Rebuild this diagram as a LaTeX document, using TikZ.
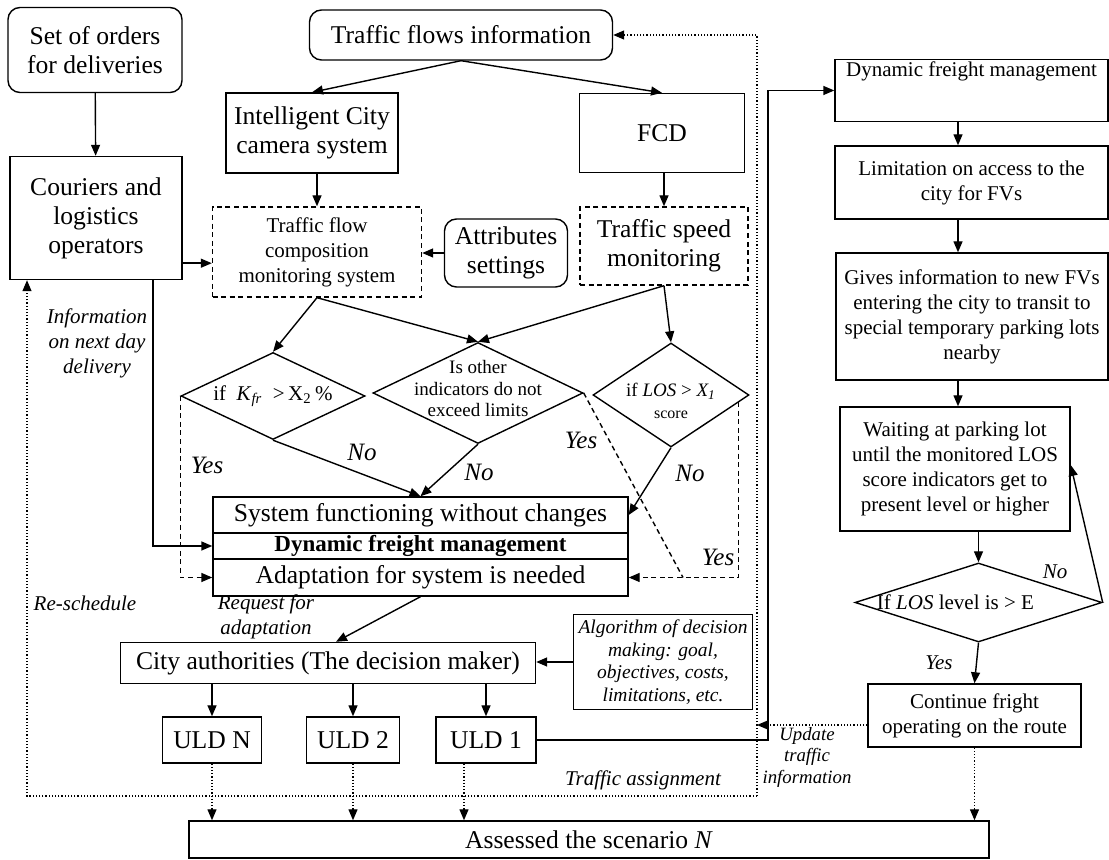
\documentclass[tikz,border=0pt]{standalone}
\usepackage{fontspec}
\setmainfont{Liberation Serif}
\usetikzlibrary{arrows.meta,shapes.geometric}

\newcommand{\bigtxt}{\fontsize{12.8}{14.5}\selectfont}
\newcommand{\midtxt}{\fontsize{10.5}{12.5}\selectfont}
\newcommand{\smtxt}{\fontsize{9.5}{10.75}\selectfont}
\newcommand{\itxt}{\fontsize{10.5}{12.5}\selectfont\itshape}
\newcommand{\yntxt}{\fontsize{12.5}{14}\selectfont\itshape}

\begin{document}
\begin{tikzpicture}[x=0.5pt, y=-0.5pt, line width=0.7pt,
    >={Triangle[length=5.5pt,width=4.5pt]},
    box/.style={draw, rectangle, align=center, inner sep=1pt, font=\bigtxt},
    rbox/.style={box, rounded corners=6pt},
    dbox/.style={box, dash pattern=on 2.5pt off 1.8pt},
    decision/.style={draw, diamond, inner sep=0pt},
    lbl/.style={font=\itxt, align=center},
    yn/.style={font=\yntxt},
    dotline/.style={densely dotted, line width=0.6pt},
    dashline/.style={dash pattern=on 2.5pt off 1.8pt}]
\useasboundingbox (0,0) rectangle (1109,860);

% orders and couriers
\node (orders) [rbox, minimum width=87pt, minimum height=42.5pt] at (95,50) {Set of orders\\for deliveries};
\node (couriers) [box, minimum width=86pt, minimum height=61.5pt] at (96,218) {Couriers and\\logistics\\operators};

% traffic information sources
\node (tfi) [rbox, minimum width=151.5pt, minimum height=25pt] at (461,35) {Traffic flows information};
\node (camera) [box, minimum width=86pt, minimum height=40pt] at (312,133) {Intelligent City\\camera system};
\node (fcd) [box, minimum width=82.5pt, minimum height=39.5pt] at (662,133) {FCD};
\node (tfc) [dbox, font=\midtxt, minimum width=104.5pt, minimum height=45pt] at (317,252) {Traffic flow\\composition\\monitoring system};
\node (attr) [rbox, minimum width=61.5pt, minimum height=34pt] at (506,253) {Attributes\\settings};
\node (tsm) [dbox, minimum width=84pt, minimum height=39pt] at (664,246) {Traffic speed\\monitoring};

% checks
\node (d1) [decision, minimum width=92pt, minimum height=43.5pt,
    label={[font=\midtxt]center:if~~\textit{K}$_{\mathit{fr}}$~~{>}\,X\textsubscript{2}\,\%}] at (273,396) {};
\node (d2) [decision, minimum width=105pt, minimum height=50.5pt,
    label={[font=\smtxt, align=center, yshift=2pt]center:Is other\\indicators do not\\exceed limits}] at (478,393) {};
\node (d3) [decision, minimum width=78pt, minimum height=52pt,
    label={[font=\smtxt, align=center, yshift=-3pt]center:if \textit{LOS} {>} \textit{X\textsubscript{1}}\\{\fontsize{8}{9}\selectfont score}}] at (671,395) {};

% system state
\node (sys) [box, minimum width=207.5pt, minimum height=18pt] at (420.5,515) {System functioning without changes};
\node (dfm) [box, font=\fontsize{11.5}{13}\selectfont\bfseries, minimum width=207.5pt, minimum height=13pt] at (420.5,546) {Dynamic freight management};
\node (adapt) [box, minimum width=207.5pt, minimum height=18.5pt] at (420.5,577.5) {Adaptation for system is needed};

% decision maker
\node (city) [box, minimum width=207.5pt, minimum height=20.5pt] at (328,663) {City authorities (The decision maker)};
\node (algo) [box, font=\fontsize{9.75}{11.25}\selectfont\itshape, minimum width=89.5pt, minimum height=47.5pt] at (663,662) {Algorithm of decision\\making: goal,\\objectives, costs,\\limitations, etc.};
\node (uldN) [box, minimum width=49.5pt, minimum height=23pt] at (212,740) {ULD N};
\node (uld2) [box, minimum width=46.5pt, minimum height=23pt] at (353,740) {ULD 2};
\node (uld1) [box, minimum width=50pt, minimum height=23pt] at (486,740) {ULD 1};
\node (assess) [box, minimum width=400pt, minimum height=18.5pt] at (589,839.5) {Assessed the scenario \textit{N}};

% right column
\node (dfm2) [box, font=\midtxt, minimum width=136.5pt, minimum height=30.5pt] at (971.5,90.5) {Dynamic freight management\\[9pt]\mbox{}};
\node (lim) [box, font=\midtxt, minimum width=136.5pt, minimum height=36.5pt] at (971.5,182.5) {Limitation on access to the\\city for FVs};
\node (gives) [box, font=\midtxt, minimum width=136pt, minimum height=63.5pt] at (972,316.5) {Gives information to new FVs\\entering the city to transit to\\special temporary parking lots\\nearby};
\node (wait) [box, font=\midtxt, minimum width=115pt, minimum height=62pt] at (955,469) {Waiting at parking lot\\until the monitored LOS\\score indicators get to\\present level or higher};
\node (los) [decision, minimum width=123.5pt, minimum height=39.5pt,
    label={[font=\midtxt, xshift=-11.5pt]center:If \textit{LOS} level is {>} E}] at (978.5,602.5) {};
\node (cont) [box, font=\midtxt, minimum width=106.5pt, minimum height=31.5pt] at (974.5,715.5) {Continue fright\\operating on the route};

% labels
\node (info) [lbl] at (97,343) {Information\\on next day\\delivery};
\node (resched) [lbl] at (85,603) {Re-schedule};
\node (request) [lbl] at (266,617) {Request for\\adaptation};
\node (assign) [lbl] at (643,780) {Traffic assignment};
\node (update) [lbl, font=\fontsize{9.4}{10.75}\selectfont\itshape] at (807,757) {Update\\traffic\\information};
\node (yes1) [yn] at (207,465) {Yes};
\node (no1) [yn] at (362,452) {No};
\node (no2) [yn] at (479,472) {No};
\node (yes2) [yn] at (581,440) {Yes};
\node (no3) [yn] at (690,473) {No};
\node (yes3) [yn] at (718,557) {Yes};
\node (yes4) [lbl] at (939,663) {Yes};
\node (no4) [lbl] at (1055,572) {No};

% helper points
\coordinate (cout) at ([yshift=8.5pt]couriers.south east);
\coordinate (cdown) at ([xshift=28.5pt]couriers.south);
\coordinate (yesjoin) at (683,577.5);
\coordinate (d3out) at ([xshift=-5.5pt,yshift=-3.5pt]d3.east);
\coordinate (u1out) at ([xshift=-11pt]uld1.south);
\coordinate (rail) at (768,740);
\coordinate (loopse) at (757,796);
\coordinate (loopsw) at (27,796);
\coordinate (updin) at ([yshift=-4.75pt]cont.west);
\coordinate (rcol) at (958,0);

% connectors
\draw[->] (orders) -- (couriers);
\draw[->] (tfi.south) -- (camera.north);
\draw[->] (tfi.south) -- (fcd.north);
\draw[->] (camera.south -| tfc.north) -- (tfc.north);
\draw[->] (fcd.south -| tsm.north) -- (tsm.north);
\draw[->] (attr) -- (attr -| tfc.east);
\draw[->] (cout) -- (cout -| tfc.west);

\draw[->] (tfc.south) -- (d1.north);
\draw[->] (tfc.south) -- (d2.north);
\draw[->] (tsm.south) -- (d2.north);
\draw[->] (tsm.south) -- (d3.north);

\draw[->] (d1.south) -- (sys.north);
\draw[->] (d2.south) -- (sys.north);
\draw[->] (d3.south) -- (sys.east);
\draw[->, dashline] (d1.west) |- (adapt.west);
\draw[->] (cdown) |- (dfm.west);
\draw[dashline] (d2.east) -- (yesjoin);
\draw[->, dashline] (d3out) |- (adapt.east);

\draw[->] (adapt.south) -- ([xshift=4pt]city.north);
\draw[->] (algo) -- (algo -| city.east);
\draw[->] (city.south -| uldN) -- (uldN);
\draw[->] (city.south -| uld2) -- (uld2);
\draw[->] (city.south -| uld1) -- (uld1);

\draw[->, dotline] (uldN) -- (uldN |- assess.north);
\draw[->, dotline] (uld2) -- (uld2 |- assess.north);
\draw[->, dotline] (u1out) -- (u1out |- assess.north);
\draw[->, dotline] (cont) -- (cont |- assess.north);

\draw[->] (uld1.east) -- (rail) |- (dfm2.west);

\draw[->, dotline] (loopse) |- (tfi.east);
\draw[->, dotline] (loopse) -- (loopsw) -- (loopsw |- couriers.south);
\draw[->, dotline] (updin) -- (updin -| loopse);

\draw[->] (rcol |- dfm2.south) -- (rcol |- lim.north);
\draw[->] (rcol |- lim.south) -- (rcol |- gives.north);
\draw[->] (rcol |- gives.south) -- (rcol |- wait.north);
\draw[->] (los.north |- wait.south) -- (los.north);
\draw[->] (los.south) -- (cont.north);
\draw[->] (los.east) -- ([yshift=2pt]wait.east);
\end{tikzpicture}
\end{document}
